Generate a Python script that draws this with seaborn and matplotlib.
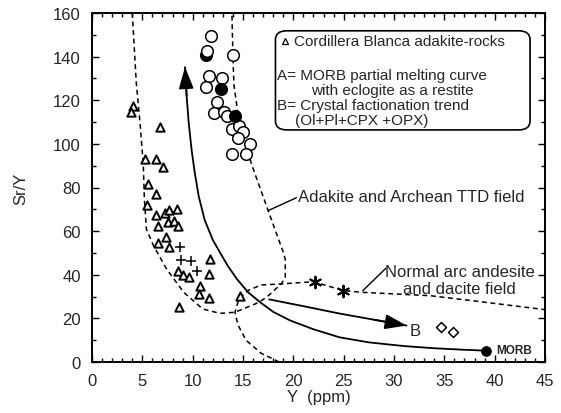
import matplotlib
matplotlib.use("Agg")
import matplotlib.pyplot as plt
import seaborn as sns
import numpy as np
from matplotlib.patches import FancyBboxPatch
from matplotlib.ticker import MultipleLocator

# ---------------- data ----------------
tri_x = [4.1, 3.9, 6.75, 5.25, 6.35, 7.1, 5.6, 6.4, 5.45, 6.4, 7.25, 7.6, 8.45, 6.6, 7.5, 8.1,
         8.55, 7.4, 6.6, 7.6, 11.7, 8.55, 9.05, 9.6, 11.65, 10.7, 10.65, 11.65, 8.65, 14.7]
tri_y = [117.3, 114.5, 107.6, 93.1, 93.1, 89.3, 81.7, 77.1, 72.0, 67.4, 68.3, 69.9, 70.2, 62.5, 64.0, 64.8,
         62.5, 57.5, 54.6, 52.6, 47.2, 41.9, 39.9, 39.1, 40.4, 35.0, 31.2, 29.2, 25.1, 30.3]

plus_x = [8.75, 8.85, 9.8, 10.45]
plus_y = [52.6, 46.9, 46.5, 41.9]

open_x = [11.8, 14.0, 11.6, 12.95, 11.35, 12.4, 12.15, 13.1, 13.45, 13.95, 14.6, 15.0, 14.55, 15.65, 13.9, 15.3]
open_y = [149.3, 140.8, 131.2, 130.1, 126.0, 119.0, 114.2, 114.8, 113.0, 107.0, 108.2, 105.3, 102.8, 99.9, 95.4, 95.4]
filled_x = [11.3, 12.85, 14.2]
filled_y = [140.6, 125.0, 112.7]
top_open_x = [11.4]
top_open_y = [142.8]

star_x = [22.15, 24.95]
star_y = [36.8, 32.7]

diam_x = [34.7, 35.9]
diam_y = [15.9, 13.9]

morb_x = [39.1]
morb_y = [5.2]

# curve A: MORB partial melting curve (from top arrow down to MORB)
curveA_x = [9.24, 9.4, 9.6, 9.9, 10.2, 10.6, 11.2, 12.0, 12.7, 13.5, 14.4, 15.5, 16.7, 18.0, 19.7,
            22.0, 24.6, 27.5, 31.0, 34.0, 37.0, 39.1]
curveA_y = [135.2, 122, 110, 97, 87, 76, 65, 56, 50.3, 44, 38, 32, 27.4, 23, 19,
            15, 11.3, 9, 7.3, 6.3, 5.6, 5.2]

# curve B: crystal fractionation trend
curveB_x = [17.6, 21.0, 24.6, 28.0, 31.25]
curveB_y = [28.7, 25.6, 22.2, 19.4, 16.7]

# adakite and Archean TTD field boundary
adak_x = [4.0, 4.4, 4.8, 5.1, 5.2, 5.4, 6.1, 7.4, 9.1, 11.0, 12.7, 14.2, 16.4, 17.3, 18.8,
          19.2, 19.2, 19.0, 17.5, 15.9, 14.7, 14.1, 14.0, 13.9]
adak_y = [160, 128, 108, 90, 75, 61, 53.4, 42.7, 32, 24.3, 22.3, 22.8, 27, 29.5, 35.8,
          38.8, 47, 50.3, 69.4, 90, 107, 127, 140, 160]

# normal arc andesite and dacite field boundary
arc_x = [18.6, 16.8, 15.3, 14.5, 14.2, 14.6, 15.5, 16.8, 18.8, 22.0, 25.0, 27.0, 33.6, 38.5, 45.0]
arc_y = [0, 4, 10, 17, 22.8, 29, 32.8, 35.3, 35.8, 36.8, 32.7, 31.9, 30.4, 27.7, 24.0]

# ---------------- style ----------------
sns.set_style("ticks")
plt.rcParams['font.family'] = ['Liberation Sans', 'DejaVu Sans']
plt.rcParams['font.size'] = 12

fig = plt.figure(figsize=(5.61, 4.14), dpi=100)
ax = fig.add_axes([92/561, 51/414, 453/561, 349/414])

dash = (0, (3.2, 2.4))
lwd = 1.1
sns.lineplot(x=adak_x, y=adak_y, sort=False, estimator=None, ax=ax, color='black',
             lw=lwd, linestyle=dash, zorder=2)
sns.lineplot(x=arc_x, y=arc_y, sort=False, estimator=None, ax=ax, color='black',
             lw=lwd, linestyle=dash, zorder=2)
sns.lineplot(x=curveA_x, y=curveA_y, sort=False, estimator=None, ax=ax, color='black',
             lw=1.3, zorder=2)
sns.lineplot(x=curveB_x, y=curveB_y, sort=False, estimator=None, ax=ax, color='black',
             lw=1.3, zorder=2)

# arrow heads
ax.annotate("", xy=(curveA_x[0], curveA_y[0]), xytext=(curveA_x[1], curveA_y[1]),
            arrowprops=dict(arrowstyle="-|>,head_length=1.1,head_width=0.38", mutation_scale=12,
                            color='black', lw=1.3, shrinkA=0, shrinkB=0), zorder=3)
ax.annotate("", xy=(curveB_x[-1], curveB_y[-1]), xytext=(curveB_x[-2], curveB_y[-2]),
            arrowprops=dict(arrowstyle="-|>,head_length=1.1,head_width=0.38", mutation_scale=12,
                            color='black', lw=1.3, shrinkA=0, shrinkB=0), zorder=3)

# points
sns.scatterplot(x=tri_x, y=tri_y, marker='^', s=36, facecolor='white', edgecolor='black',
                linewidth=1.4, ax=ax, zorder=4)
sns.scatterplot(x=plus_x, y=plus_y, marker='+', s=60, color='black', linewidth=1.1, ax=ax, zorder=4)
sns.scatterplot(x=open_x, y=open_y, marker='o', s=70, facecolor='white', edgecolor='black',
                linewidth=1.1, ax=ax, zorder=4)
sns.scatterplot(x=filled_x, y=filled_y, marker='o', s=70, color='black', edgecolor='black',
                linewidth=1.1, ax=ax, zorder=5)
sns.scatterplot(x=top_open_x, y=top_open_y, marker='o', s=70, facecolor='white', edgecolor='black',
                linewidth=1.1, ax=ax, zorder=6)
sns.scatterplot(x=star_x, y=star_y, marker=(6, 2, 0), s=70, color='black', linewidth=1.4, ax=ax, zorder=4)
sns.scatterplot(x=diam_x, y=diam_y, marker='D', s=26, facecolor='white', edgecolor='black',
                linewidth=1.1, ax=ax, zorder=4)
sns.scatterplot(x=morb_x, y=morb_y, marker='o', s=50, color='black', edgecolor='black', ax=ax, zorder=4)

# annotations
ax.text(40.2, 5.4, "MORB", fontsize=8.5, fontweight='bold', va='center', ha='left')
ax.text(32.1, 14.4, "B", fontsize=12, va='center', ha='center')
ax.text(20.45, 75.7, "Adakite and Archean TTD field", fontsize=12, va='center', ha='left')
ax.plot([17.5, 20.3], [69.4, 75.3], color='black', lw=1.0)
ax.text(36.5, 37.5, "Normal arc andesite\nand dacite field", fontsize=12, va='center', ha='center',
        multialignment='center', linespacing=1.15)
ax.plot([26.9, 29.2], [32.7, 43.0], color='black', lw=1.0)

# legend box
box = FancyBboxPatch((0.405, 0.665), 0.562, 0.284, boxstyle="round,pad=0.0,rounding_size=0.025",
                     transform=ax.transAxes, facecolor='white', edgecolor='black', lw=1.2, zorder=7)
ax.add_patch(box)
ax.plot([0.426], [0.921], marker='^', ms=5, mfc='white', mec='black', mew=0.9,
        transform=ax.transAxes, zorder=8)
kw = dict(transform=ax.transAxes, fontsize=11, va='center', ha='left', zorder=8)
ax.text(0.446, 0.921, "Cordillera Blanca adakite-rocks", **kw)
ax.text(0.409, 0.822, "A= MORB partial melting curve", **kw)
ax.text(0.483, 0.780, "with eclogite as a restite", **kw)
ax.text(0.409, 0.737, "B= Crystal factionation trend", **kw)
ax.text(0.448, 0.692, "(Ol+Pl+CPX +OPX)", **kw)

# axes
ax.set_xlim(0, 45)
ax.set_ylim(0, 160)
ax.xaxis.set_major_locator(MultipleLocator(5))
ax.xaxis.set_minor_locator(MultipleLocator(1))
ax.yaxis.set_major_locator(MultipleLocator(20))
ax.yaxis.set_minor_locator(MultipleLocator(10))
ax.tick_params(which='both', direction='in', top=True, right=True, width=1.0, color='black')
ax.tick_params(which='major', length=5, labelsize=12, pad=8)
ax.tick_params(which='minor', length=3)
for sp in ax.spines.values():
    sp.set_linewidth(1.4)
    sp.set_color('black')
ax.set_xlabel("Y  (ppm)", fontsize=12, labelpad=1)
ax.set_ylabel("Sr/Y", fontsize=12, labelpad=18)

fig.savefig("out.png", dpi=100)
